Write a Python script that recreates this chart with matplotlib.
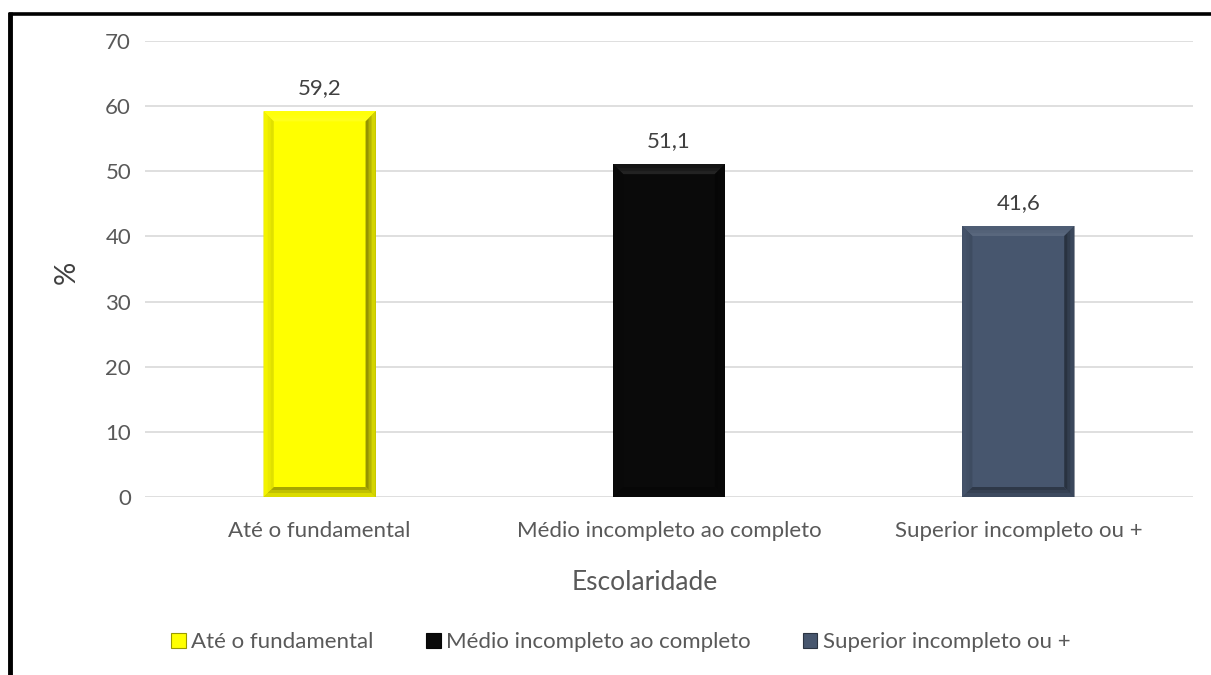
import matplotlib
matplotlib.use("Agg")
import matplotlib.pyplot as plt
from matplotlib.patches import Polygon, Rectangle
from matplotlib.lines import Line2D
import numpy as np

categories = ["Até o fundamental", "Médio incompleto ao completo", "Superior incompleto ou +"]
values = [59.2, 51.1, 41.6]
colors = ["#FFFF00", "#0A0A0A", "#47566E"]
yticks = [0, 10, 20, 30, 40, 50, 60, 70]

TEXT = "#595959"
FONT = "Lato"
FS = 16
plt.rcParams["font.family"] = [FONT, "DejaVu Sans"]

W, H = 1211, 675
fig = plt.figure(figsize=(W / 100, H / 100), dpi=100)
ax = fig.add_axes([145 / W, 1 - 497 / H, 1048 / W, 456 / H])

x = np.arange(len(categories))
bar_w = 0.32
ax.bar(x, values, width=bar_w, color=colors, zorder=3)

ax.set_xlim(-0.5, 2.5)
ax.set_ylim(0, 70)
ax.set_yticks(yticks)
ax.set_yticklabels([str(t) for t in yticks], color=TEXT, fontsize=FS)
ax.set_xticks(x)
ax.set_xticklabels(categories, color=TEXT, fontsize=FS)
ax.tick_params(axis="y", length=0, pad=10)
ax.tick_params(axis="x", length=0, pad=17)
ax.grid(axis="y", color="#D9D9D9", lw=1.2, zorder=0)
for s in ax.spines.values():
    s.set_visible(False)


def shade(c, f):
    c = np.array(matplotlib.colors.to_rgb(c))
    if f >= 0:
        return tuple(c + (1 - c) * f)
    return tuple(c * (1 + f))


def mix(a, b, t):
    a = np.array(matplotlib.colors.to_rgb(a))
    b = np.array(b)
    return tuple(a * (1 - t) + b * t)


# bevelled edges on each bar, drawn as a few graded bands
px_x = 3 / 1048
px_y = 70 / 456
steps = [(10, 1.0), (7, 0.7), (4, 0.4)]
for xi, v, c in zip(x, values, colors):
    l, r = xi - bar_w / 2, xi + bar_w / 2
    for depth, strength in steps:
        bx = depth * px_x
        by = depth * px_y
        top = [(l, v), (r, v), (r - bx, v - by), (l + bx, v - by)]
        right = [(r, v), (r, 0), (r - bx, by), (r - bx, v - by)]
        left = [(l, v), (l + bx, v - by), (l + bx, by), (l, 0)]
        bottom = [(l, 0), (r, 0), (r - bx, by), (l + bx, by)]
        a = 0.45
        ax.add_patch(Polygon(top, closed=True, fc=shade(c, 0.10 * strength), ec="none",
                             zorder=4))
        ax.add_patch(Polygon(left, closed=True, fc=shade(c, -0.12 * strength), ec="none",
                             zorder=4))
        ax.add_patch(Polygon(right, closed=True, fc=shade(c, -0.42 * strength), ec="none",
                             zorder=4))
        ax.add_patch(Polygon(bottom, closed=True, fc=shade(c, -0.35 * strength), ec="none",
                             zorder=4))
    ax.text(xi, v + 2.0, f"{v:.1f}".replace(".", ","), ha="center", va="bottom",
            color="#404040", fontsize=FS, zorder=5)

ax.set_ylabel("%", color="#404040", fontsize=21)
ax.yaxis.set_label_coords(-0.062, 0.493)
fig.text(645 / W, 1 - 583 / H, "Escolaridade", ha="center", va="center",
         color=TEXT, fontsize=19)

handles = [Rectangle((0, 0), 1, 1, fc=c, ec=shade(c, -0.4), lw=0.8) for c in colors]
fig.legend(handles, categories, loc="center", bbox_to_anchor=(621 / W, 1 - 642 / H),
           ncol=3, frameon=False, fontsize=FS, labelcolor=TEXT,
           handlelength=0.65, handleheight=0.65, handletextpad=0.25, columnspacing=2.35)

# frame lines around the figure
fig.add_artist(Line2D([10.5 / W, 10.5 / W], [0, 1 - 12 / H], color="black", lw=3.5,
                      transform=fig.transFigure, solid_capstyle="butt"))
fig.add_artist(Line2D([8.7 / W, 1], [1 - 13.5 / H, 1 - 13.5 / H], color="black", lw=2.6,
                      transform=fig.transFigure, solid_capstyle="butt"))

fig.savefig("out.png", dpi=100, facecolor="white")
